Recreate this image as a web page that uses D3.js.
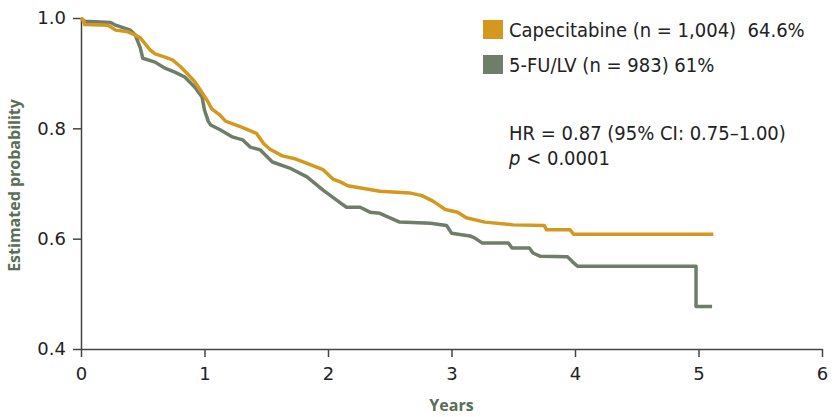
<!DOCTYPE html>
<html>
<head>
<meta charset="utf-8">
<script src="https://cdn.jsdelivr.net/npm/d3@7"></script>
<style>
    body { margin: 0; background: #fff; }
    svg { display: block; }
</style>
</head>
<body>
<div id="km-holder"></div>
<script>

// survival curves, [years, probability]; repeated years mark vertical steps
var capecitabine = [
    [0, 1.0], [0.02, 0.995], [0.03, 0.988], [0.22, 0.987], [0.28, 0.978], [0.38, 0.975],
    [0.44, 0.969], [0.48, 0.964], [0.52, 0.953], [0.56, 0.942], [0.60, 0.935],
    [0.68, 0.929], [0.74, 0.924], [0.80, 0.913], [0.87, 0.897], [0.92, 0.885],
    [0.97, 0.868], [1.02, 0.851], [1.06, 0.835], [1.12, 0.825], [1.17, 0.813],
    [1.30, 0.802], [1.42, 0.791], [1.48, 0.772], [1.53, 0.762], [1.63, 0.750],
    [1.73, 0.745], [1.96, 0.725], [2.04, 0.708], [2.10, 0.703], [2.16, 0.696],
    [2.42, 0.686], [2.66, 0.683], [2.76, 0.678], [2.85, 0.668], [2.95, 0.653],
    [3.05, 0.648], [3.12, 0.638], [3.27, 0.630], [3.50, 0.625], [3.75, 0.624],
    [3.77, 0.616], [3.96, 0.616], [3.99, 0.608], [5.12, 0.608]
];

var fuLv = [
    [0, 1.0], [0.02, 0.996], [0.03, 0.994], [0.24, 0.992], [0.28, 0.987], [0.40, 0.978],
    [0.44, 0.969], [0.48, 0.946], [0.50, 0.927], [0.60, 0.920], [0.68, 0.909],
    [0.76, 0.902], [0.84, 0.893], [0.92, 0.875], [0.98, 0.857], [1.00, 0.833],
    [1.03, 0.813], [1.05, 0.806], [1.13, 0.797], [1.23, 0.784], [1.31, 0.779],
    [1.37, 0.766], [1.45, 0.761], [1.55, 0.739], [1.69, 0.728], [1.83, 0.712],
    [1.96, 0.688], [2.04, 0.675], [2.10, 0.665], [2.15, 0.657], [2.26, 0.657],
    [2.34, 0.648], [2.42, 0.646], [2.53, 0.635], [2.58, 0.630], [2.83, 0.628],
    [2.96, 0.624], [3.00, 0.610], [3.15, 0.605], [3.19, 0.601], [3.25, 0.592],
    [3.46, 0.592], [3.49, 0.583], [3.63, 0.583], [3.66, 0.574], [3.72, 0.568],
    [3.94, 0.567], [3.98, 0.558], [4.02, 0.550], [4.98, 0.550], [4.98, 0.477],
    [5.11, 0.477]
];

var seriesNames = ['Capecitabine (n = 1,004)  64.6%', '5-FU/LV (n = 983) 61%'];
var seriesColors = ['#d4981f', '#6e7e68'];
var xTicks = [0, 1, 2, 3, 4, 5, 6];
var yTicks = [0.4, 0.6, 0.8, 1.0];
var statLines = ['HR = 0.87 (95% CI: 0.75\u20131.00)', 'p < 0.0001'];

function createChart(elementId) {

    var width = 832;
    var height = 417;
    var margins = { top: 18, right: 10, bottom: 68, left: 81 };
    var innerWidth = 822 - margins.left;
    var innerHeight = height - margins.top - margins.bottom;
    var textFont = 'Liberation Sans Narrow, DejaVu Sans Condensed, sans-serif';

    var svg = d3
        .select(elementId)
        .append('svg')
        .attr('width', width)
        .attr('height', height);

    var g = svg
        .append('g')
        .attr('transform', 'translate(' + margins.left + ',' + margins.top + ')');

    var x = d3.scaleLinear().domain([0, 6]).range([0, innerWidth]);
    var y = d3.scaleLinear().domain([0.4, 1.0]).range([innerHeight, 0]);

    // axes
    var xAxis = g
        .append('g')
        .attr('transform', 'translate(0,' + innerHeight + ')')
        .call(d3.axisBottom(x).tickValues(xTicks).tickSize(8).tickPadding(10).tickSizeOuter(0).tickFormat(d3.format('d')));

    var yAxis = g
        .append('g')
        .call(d3.axisLeft(y).tickValues(yTicks).tickSize(8).tickPadding(7).tickSizeOuter(0).tickFormat(d3.format('.1f')));

    [xAxis, yAxis].forEach(function(axis) {
        axis.select('.domain').attr('stroke', '#444').attr('stroke-width', 1.5);
        axis.selectAll('.tick line').attr('stroke', '#444').attr('stroke-width', 1.5);
        axis.selectAll('.tick text')
            .attr('fill', '#222')
            .style('font-family', 'DejaVu Sans')
            .style('font-size', '18px');
    });

    // curves
    var line = d3.line()
        .x(function(d) { return x(d[0]); })
        .y(function(d) { return y(d[1]); });

    [fuLv, capecitabine].forEach(function(data, i) {
        g.append('path')
            .datum(data)
            .attr('d', line)
            .attr('fill', 'none')
            .attr('stroke', seriesColors[1 - i])
            .attr('stroke-width', 3.5)
            .attr('stroke-linejoin', 'round');
    });

    // legend
    var legend = svg.append('g').attr('class', 'legend');

    legend
        .selectAll('rect')
        .data(seriesNames)
        .enter()
        .append('rect')
        .attr('x', 483)
        .attr('y', function(d, i) { return 20 + i * 35; })
        .attr('width', 20)
        .attr('height', 19)
        .attr('fill', function(d, i) { return seriesColors[i]; });

    legend
        .selectAll('text')
        .data(seriesNames)
        .enter()
        .append('text')
        .attr('x', 509)
        .attr('y', function(d, i) { return 37 + i * 35; })
        .attr('fill', '#222')
        .style('font-family', textFont)
        .style('font-size', '20px')
        .style('white-space', 'pre')
        .text(function(d) { return d; });

    // hazard ratio annotation
    var stats = svg.append('g');
    stats.append('text')
        .attr('x', 509)
        .attr('y', 140)
        .attr('fill', '#222')
        .style('font-family', textFont)
        .style('font-size', '20px')
        .text(statLines[0]);

    var pText = stats.append('text')
        .attr('x', 509)
        .attr('y', 165)
        .attr('fill', '#222')
        .style('font-family', textFont)
        .style('font-size', '20px');
    pText.append('tspan').style('font-style', 'italic').text(statLines[1].slice(0, 1));
    pText.append('tspan').text(statLines[1].slice(1));

    // axis titles
    svg.append('text')
        .attr('transform', 'translate(20,' + (margins.top + innerHeight / 2 + 2) + ') rotate(-90)')
        .attr('text-anchor', 'middle')
        .attr('fill', '#5b6e57')
        .style('font-family', 'Open Sans')
        .style('font-weight', 'bold')
        .style('font-size', '16px')
        .text('Estimated probability');

    svg.append('text')
        .attr('x', margins.left + x(3))
        .attr('y', 411)
        .attr('text-anchor', 'middle')
        .attr('fill', '#5b6e57')
        .style('font-family', 'Open Sans')
        .style('font-weight', 'bold')
        .style('font-size', '16px')
        .text('Years');
}

createChart('#km-holder');
</script>
</body>
</html>
